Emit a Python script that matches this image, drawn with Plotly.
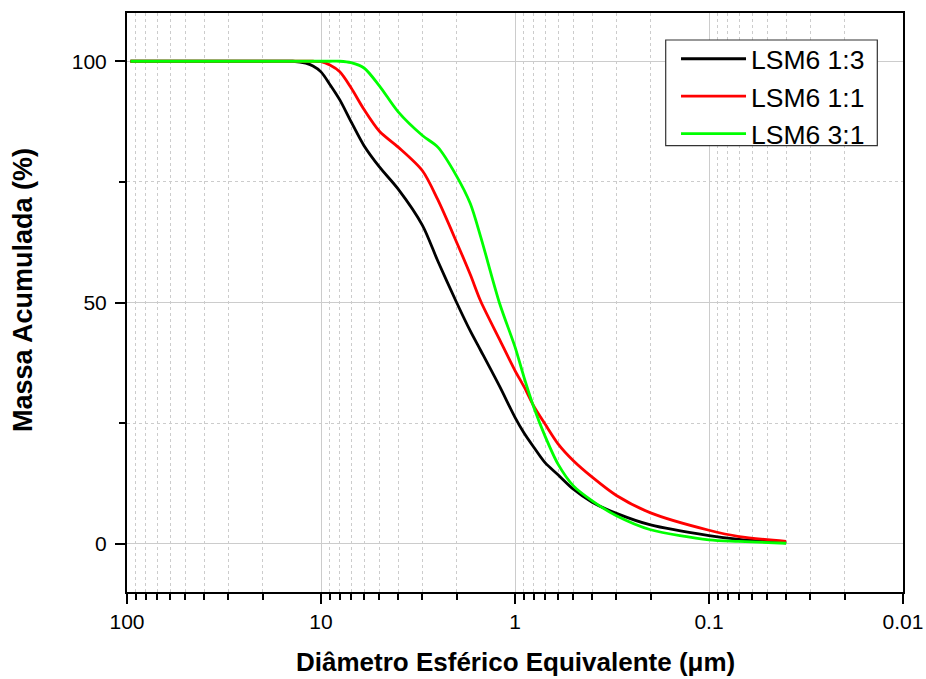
import plotly.graph_objects as go

# Data
diametro = [96, 20, 14, 12, 11, 10, 9, 8, 7, 6, 5, 4, 3, 2.5, 2, 1.7, 1.5, 1.2, 1,
            0.9, 0.8, 0.7, 0.6, 0.5, 0.4, 0.3, 0.2, 0.1, 0.07, 0.04]
lsm6_1_3 = [100, 100, 100, 99.6, 99.0, 97.8, 95.2, 92.0, 87.5, 82.5, 78.1, 73.5, 66.0, 58.6, 50.0, 44.1, 40.0, 32.6, 26.2,
            23.0, 20.0, 16.8, 14.3, 11.3, 8.6, 6.3, 3.9, 1.7, 0.9, 0.2]
lsm6_1_1 = [100, 100, 100, 100, 100, 99.9, 99.2, 97.8, 94.5, 90.0, 85.5, 82.2, 77.3, 71.3, 62.5, 55.8, 50.2, 42.3, 35.9,
            32.6, 28.5, 24.8, 20.7, 17.2, 13.8, 10.0, 6.4, 2.8, 1.5, 0.5]
lsm6_3_1 = [100, 100, 100, 100, 100, 100, 100, 100, 99.7, 98.6, 94.9, 89.5, 84.6, 82.2, 76.2, 70.5, 63.5, 49.8, 40.8,
            34.6, 28.3, 22.3, 16.5, 12.0, 8.9, 5.8, 2.9, 0.8, 0.5, 0.1]

series = [("LSM6 1:3", lsm6_1_3, "#000000"),
          ("LSM6 1:1", lsm6_1_1, "#FF0000"),
          ("LSM6 3:1", lsm6_3_1, "#00FF00")]

x_ticks = [100, 10, 1, 0.1, 0.01]
x_ticklabels = ["100", "10", "1", "0.1", "0.01"]
x_minor = [m * 10 ** k for k in (-2, -1, 0, 1) for m in range(2, 10)]
y_ticks = [0, 50, 100]
y_minor = [25, 75]

x_title = "Diâmetro Esférico Equivalente (μm)"
y_title = "Massa Acumulada (%)"

FONT = "Liberation Sans, Arial, sans-serif"

fig = go.Figure()
for name, vals, col in series:
    fig.add_trace(go.Scatter(x=diametro, y=vals, mode="lines", name=name,
                             line=dict(color=col, width=2.8, shape="spline", smoothing=0.8)))

fig.update_layout(
    width=926, height=679,
    margin=dict(l=127, r=23, t=13, b=87, autoexpand=False),
    paper_bgcolor="white", plot_bgcolor="white",
    font=dict(family=FONT, size=21, color="black"),
    showlegend=True,
    legend=dict(x=0.7075, y=0.962, xanchor="left", yanchor="top",
                bgcolor="rgba(0,0,0,0)", borderwidth=0,
                font=dict(size=26.5, family=FONT), itemwidth=65,
                tracegroupgap=0),
    xaxis=dict(
        type="log", range=[2, -2], automargin=False,
        tickmode="array", tickvals=x_ticks, ticktext=x_ticklabels,
        ticks="outside", ticklen=10, tickwidth=2, tickcolor="black",
        showline=True, linecolor="black", linewidth=2, mirror=True,
        showgrid=True, gridcolor="#cccccc", gridwidth=1,
        zeroline=False,
        minor=dict(tickmode="array", tickvals=x_minor, ticks="outside", ticklen=6,
                   tickwidth=2, tickcolor="black", showgrid=True,
                   gridcolor="#cccccc", gridwidth=1, griddash="dot"),
        tickfont=dict(size=21),
    ),
    yaxis=dict(
        range=[-10, 110], automargin=False,
        tickmode="array", tickvals=y_ticks,
        ticks="outside", ticklen=10, tickwidth=2, tickcolor="black",
        showline=True, linecolor="black", linewidth=2, mirror=True,
        showgrid=True, gridcolor="#cccccc", gridwidth=1,
        zeroline=False, ticklabelstandoff=4,
        minor=dict(tickmode="array", tickvals=y_minor, ticks="outside", ticklen=6,
                   tickwidth=2, tickcolor="black", showgrid=True,
                   gridcolor="#cccccc", gridwidth=1, griddash="dot"),
        tickfont=dict(size=21),
    ),
    shapes=[dict(type="rect", xref="paper", yref="paper",
                 x0=0.6942, x1=0.9669, y0=0.7708, y1=0.9534,
                 line=dict(color="#333333", width=1.2), fillcolor="white",
                 layer="above")],
    annotations=[
        dict(text="<b>" + x_title + "</b>", xref="paper", yref="paper",
             x=0.5, y=-0.1209, xanchor="center", yanchor="middle",
             showarrow=False, font=dict(size=26, family=FONT)),
        dict(text="<b>" + y_title + "</b>", xref="paper", yref="paper",
             x=-0.134, y=0.5216, xanchor="center", yanchor="middle",
             textangle=-90, showarrow=False, font=dict(size=27, family=FONT)),
    ],
)

fig.write_html("out.html",
               config={"displayModeBar": False},
               post_script="document.body.style.margin='0';document.body.style.overflow='hidden';")
